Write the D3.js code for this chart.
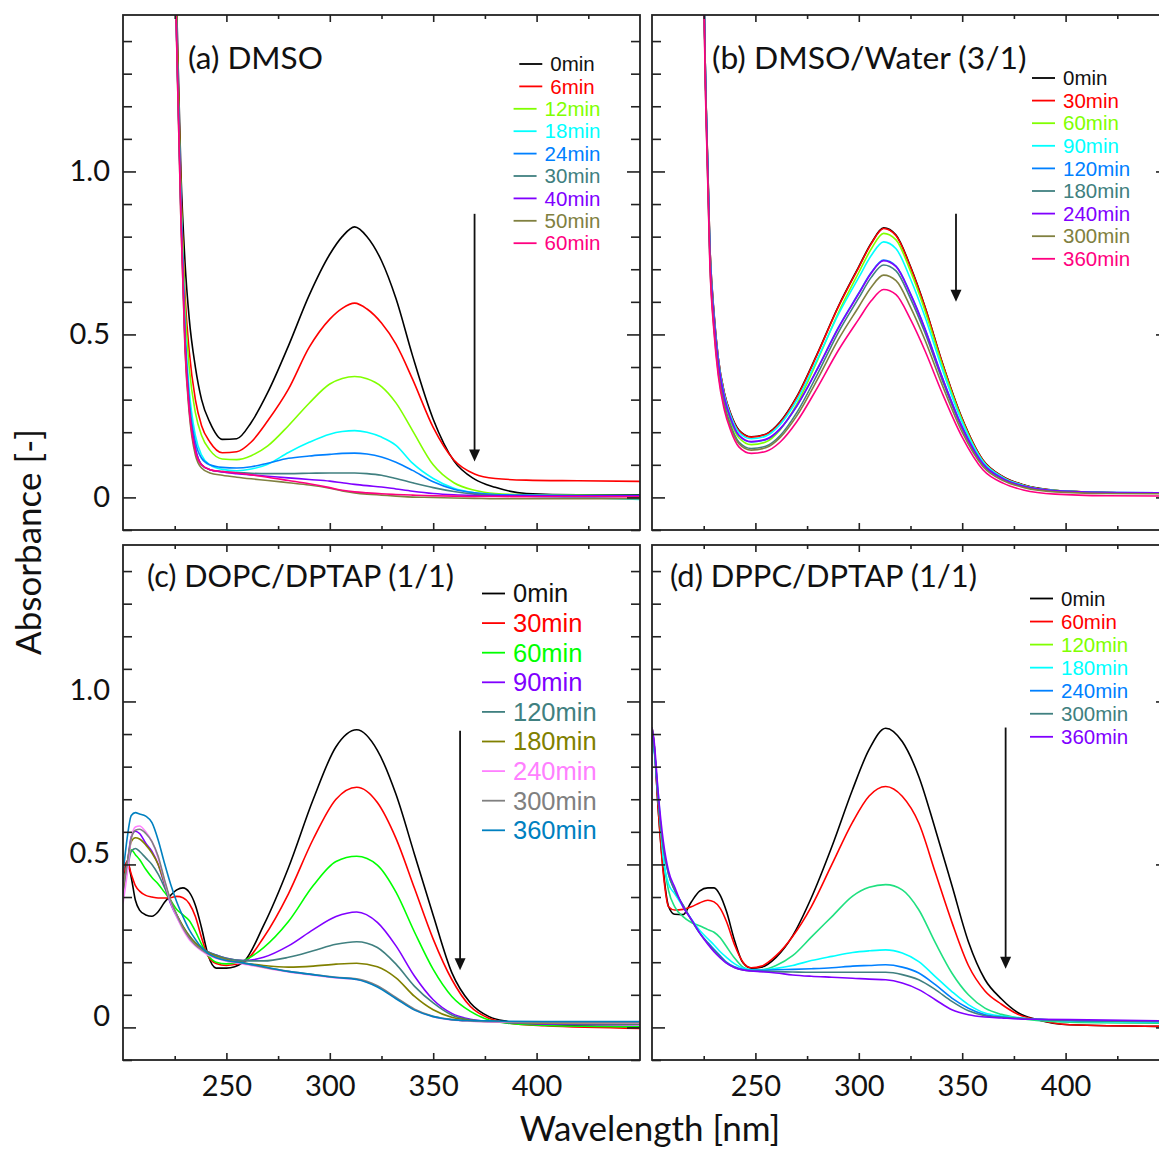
<!DOCTYPE html>
<html>
<head>
<meta charset="utf-8">
<script src="https://cdn.jsdelivr.net/npm/d3@7"></script>
<style>
  body { margin: 0; background: #fff; }
  svg { display: block; }
  .tick-label, .title, .axis-title { font-family: Lato, "Open Sans", sans-serif; fill: #111; }
  .legend text { font-family: "Liberation Sans", Arial, sans-serif; }
</style>
</head>
<body>
<svg id="chart" width="1159" height="1150"></svg>
<script>
// ---------- data ----------
// (a) DMSO
const wlA = [200, 222, 226, 228, 230, 232, 235, 238, 242, 248, 255, 262, 270, 280, 290, 300, 306, 312, 318, 325, 332, 340, 350, 360, 370, 380, 395, 420, 450];
const timesA = ["0min", "6min", "12min", "18min", "24min", "30min", "40min", "50min", "60min"];
const colorsA = ["#000000", "#ff0000", "#80ff00", "#00ffff", "#0080ff", "#408080", "#8000ff", "#808040", "#ff0080"];
const absA0  = [3, 2.5, 1.5, 1.0, 0.72, 0.55, 0.4, 0.3, 0.23, 0.178, 0.18, 0.23, 0.322, 0.465, 0.62, 0.746, 0.8, 0.83, 0.8, 0.726, 0.61, 0.435, 0.24, 0.112, 0.056, 0.031, 0.012, 0.008, 0.008];
const absA6  = [3, 2.5, 1.45, 0.95, 0.62, 0.45, 0.3, 0.22, 0.17, 0.137, 0.14, 0.17, 0.235, 0.332, 0.46, 0.547, 0.58, 0.596, 0.578, 0.535, 0.47, 0.363, 0.215, 0.115, 0.072, 0.058, 0.053, 0.051, 0.049];
const absA12 = [3, 2.5, 1.45, 0.93, 0.58, 0.4, 0.26, 0.19, 0.145, 0.118, 0.116, 0.128, 0.158, 0.22, 0.289, 0.348, 0.365, 0.371, 0.364, 0.34, 0.29, 0.205, 0.1, 0.045, 0.022, 0.012, 0.008, 0.007, 0.006];
const absA18 = [3, 2.5, 1.4, 0.9, 0.52, 0.33, 0.19, 0.13, 0.1, 0.086, 0.082, 0.087, 0.102, 0.138, 0.169, 0.194, 0.202, 0.205, 0.2, 0.185, 0.16, 0.105, 0.058, 0.028, 0.014, 0.008, 0.004, 0.0, -0.006];
const absA24 = [3, 2.5, 1.4, 0.9, 0.5, 0.3, 0.17, 0.12, 0.1, 0.092, 0.09, 0.094, 0.105, 0.12, 0.127, 0.132, 0.135, 0.136, 0.133, 0.124, 0.108, 0.083, 0.048, 0.025, 0.014, 0.009, 0.007, 0.006, 0.006];
const absA30 = [3, 2.5, 1.4, 0.88, 0.48, 0.28, 0.15, 0.1, 0.085, 0.079, 0.076, 0.074, 0.073, 0.073, 0.074, 0.075, 0.075, 0.075, 0.073, 0.068, 0.058, 0.045, 0.03, 0.018, 0.01, 0.006, 0.004, 0.003, 0.003];
const absA40 = [3, 2.5, 1.4, 0.88, 0.48, 0.28, 0.15, 0.1, 0.085, 0.078, 0.073, 0.069, 0.065, 0.06, 0.055, 0.05, 0.045, 0.04, 0.036, 0.032, 0.026, 0.019, 0.012, 0.008, 0.006, 0.005, 0.005, 0.005, 0.005];
const absA50 = [3, 2.5, 1.38, 0.85, 0.45, 0.26, 0.13, 0.09, 0.075, 0.068, 0.062, 0.057, 0.052, 0.045, 0.038, 0.028, 0.02, 0.014, 0.01, 0.007, 0.004, 0.001, 0.0, -0.002, -0.003, -0.004, -0.004, -0.004, -0.004];
const absA60 = [3, 2.5, 1.38, 0.85, 0.46, 0.27, 0.14, 0.1, 0.085, 0.079, 0.075, 0.069, 0.062, 0.052, 0.042, 0.03, 0.022, 0.017, 0.014, 0.011, 0.009, 0.007, 0.005, 0.004, 0.003, 0.003, 0.002, 0.002, 0.002];

// (b) DMSO/Water (3/1)
const wlB = [200, 222, 226, 228, 230, 232, 235, 238, 242, 248, 255, 262, 270, 280, 290, 300, 306, 312, 318, 325, 332, 340, 350, 360, 370, 380, 395, 420, 450];
const timesB = ["0min", "30min", "60min", "90min", "120min", "180min", "240min", "300min", "360min"];
const colorsB = ["#000000", "#ff0000", "#80ff00", "#00ffff", "#0080ff", "#408080", "#8000ff", "#808040", "#ff0080"];
const absB0   = [3, 2.6, 1.25, 0.77, 0.565, 0.43, 0.32, 0.258, 0.207, 0.186, 0.194, 0.232, 0.309, 0.442, 0.585, 0.708, 0.78, 0.827, 0.805, 0.708, 0.585, 0.421, 0.242, 0.115, 0.063, 0.038, 0.022, 0.015, 0.013];
const absB30  = [3, 2.6, 1.25, 0.77, 0.56, 0.43, 0.32, 0.256, 0.205, 0.185, 0.193, 0.23, 0.307, 0.44, 0.583, 0.706, 0.778, 0.825, 0.803, 0.706, 0.583, 0.42, 0.24, 0.114, 0.062, 0.037, 0.021, 0.015, 0.013];
const absB60  = [3, 2.6, 1.25, 0.75, 0.54, 0.41, 0.3, 0.235, 0.183, 0.162, 0.17, 0.208, 0.286, 0.42, 0.565, 0.69, 0.762, 0.81, 0.79, 0.694, 0.573, 0.412, 0.236, 0.111, 0.06, 0.036, 0.021, 0.015, 0.013];
const absB90  = [3, 2.6, 1.25, 0.76, 0.555, 0.425, 0.315, 0.252, 0.2, 0.18, 0.188, 0.224, 0.298, 0.425, 0.56, 0.675, 0.742, 0.784, 0.763, 0.67, 0.554, 0.4, 0.23, 0.11, 0.06, 0.036, 0.021, 0.015, 0.014];
const absB120 = [3, 2.6, 1.25, 0.75, 0.545, 0.415, 0.305, 0.242, 0.19, 0.17, 0.177, 0.21, 0.28, 0.395, 0.52, 0.627, 0.69, 0.728, 0.71, 0.625, 0.518, 0.375, 0.217, 0.104, 0.057, 0.034, 0.02, 0.015, 0.014];
const absB180 = [3, 2.6, 1.22, 0.73, 0.525, 0.395, 0.285, 0.222, 0.17, 0.15, 0.157, 0.19, 0.26, 0.378, 0.505, 0.612, 0.675, 0.713, 0.695, 0.61, 0.505, 0.366, 0.21, 0.1, 0.055, 0.033, 0.019, 0.014, 0.013];
const absB240 = [3, 2.6, 1.25, 0.75, 0.545, 0.415, 0.305, 0.243, 0.191, 0.171, 0.178, 0.211, 0.28, 0.394, 0.518, 0.625, 0.688, 0.726, 0.708, 0.623, 0.516, 0.373, 0.215, 0.103, 0.056, 0.034, 0.02, 0.015, 0.014];
const absB300 = [3, 2.6, 1.22, 0.72, 0.515, 0.385, 0.278, 0.216, 0.165, 0.145, 0.152, 0.184, 0.25, 0.362, 0.483, 0.585, 0.645, 0.682, 0.665, 0.584, 0.483, 0.35, 0.2, 0.095, 0.051, 0.03, 0.017, 0.012, 0.011];
const absB360 = [3, 2.6, 1.2, 0.71, 0.505, 0.375, 0.268, 0.206, 0.155, 0.135, 0.141, 0.17, 0.232, 0.337, 0.45, 0.547, 0.603, 0.638, 0.622, 0.546, 0.45, 0.325, 0.185, 0.085, 0.043, 0.022, 0.01, 0.005, 0.004];

// (c) DOPC/DPTAP (1/1)
const wlC = [200, 202, 204, 206, 208, 211, 214, 217, 220, 223, 226, 229, 232, 235, 238, 241, 245, 250, 258, 268, 280, 292, 303, 313, 323, 332, 341, 350, 359, 368, 377, 386, 404, 450];
const timesC = ["0min", "30min", "60min", "90min", "120min", "180min", "240min", "300min", "360min"];
const colorsC = ["#000000", "#ff0000", "#00ff00", "#8000ff", "#408080", "#808000", "#ff80ff", "#808080", "#0080c0"];
const absC0   = [0.45, 0.51, 0.46, 0.39, 0.36, 0.345, 0.341, 0.355, 0.383, 0.405, 0.422, 0.428, 0.415, 0.375, 0.305, 0.225, 0.182, 0.182, 0.199, 0.313, 0.49, 0.7, 0.861, 0.913, 0.85, 0.715, 0.53, 0.344, 0.168, 0.075, 0.033, 0.018, 0.007, 0.002];
const absC30  = [0.46, 0.51, 0.47, 0.435, 0.418, 0.405, 0.4, 0.397, 0.397, 0.398, 0.402, 0.398, 0.38, 0.34, 0.275, 0.22, 0.196, 0.19, 0.199, 0.276, 0.41, 0.578, 0.7, 0.737, 0.69, 0.58, 0.426, 0.271, 0.147, 0.064, 0.028, 0.014, 0.005, -0.003];
const absC60  = [0.42, 0.5, 0.545, 0.53, 0.515, 0.485, 0.46, 0.44, 0.415, 0.39, 0.362, 0.345, 0.328, 0.295, 0.255, 0.222, 0.2, 0.195, 0.204, 0.245, 0.325, 0.435, 0.509, 0.525, 0.498, 0.415, 0.292, 0.178, 0.095, 0.049, 0.023, 0.013, 0.006, 0.002];
const absC90  = [0.42, 0.5, 0.585, 0.602, 0.595, 0.565, 0.54, 0.5, 0.44, 0.38, 0.34, 0.305, 0.278, 0.258, 0.244, 0.232, 0.222, 0.212, 0.205, 0.215, 0.25, 0.3, 0.34, 0.354, 0.322, 0.25, 0.157, 0.085, 0.043, 0.025, 0.018, 0.015, 0.01, 0.008];
const absC120 = [0.41, 0.48, 0.54, 0.549, 0.54, 0.52, 0.5, 0.47, 0.43, 0.385, 0.345, 0.31, 0.282, 0.26, 0.245, 0.232, 0.222, 0.212, 0.205, 0.204, 0.215, 0.235, 0.255, 0.263, 0.245, 0.194, 0.126, 0.075, 0.038, 0.023, 0.018, 0.016, 0.012, 0.01];
const absC180 = [0.42, 0.5, 0.57, 0.582, 0.578, 0.56, 0.535, 0.5, 0.445, 0.39, 0.345, 0.31, 0.28, 0.258, 0.242, 0.23, 0.218, 0.208, 0.198, 0.19, 0.185, 0.188, 0.194, 0.197, 0.186, 0.152, 0.095, 0.054, 0.031, 0.022, 0.018, 0.016, 0.013, 0.012];
const absC240 = [0.38, 0.47, 0.58, 0.615, 0.618, 0.6, 0.57, 0.52, 0.45, 0.385, 0.34, 0.3, 0.27, 0.25, 0.235, 0.222, 0.212, 0.203, 0.195, 0.183, 0.17, 0.16, 0.152, 0.147, 0.126, 0.09, 0.054, 0.033, 0.023, 0.019, 0.017, 0.016, 0.015, 0.014];
const absC300 = [0.43, 0.5, 0.58, 0.605, 0.608, 0.595, 0.57, 0.525, 0.455, 0.39, 0.345, 0.305, 0.275, 0.253, 0.238, 0.226, 0.215, 0.206, 0.197, 0.185, 0.172, 0.162, 0.154, 0.149, 0.128, 0.092, 0.056, 0.034, 0.024, 0.02, 0.018, 0.017, 0.016, 0.015];
const absC360 = [0.47, 0.58, 0.65, 0.659, 0.655, 0.648, 0.628, 0.575, 0.505, 0.44, 0.385, 0.34, 0.3, 0.27, 0.245, 0.228, 0.214, 0.205, 0.198, 0.186, 0.172, 0.162, 0.153, 0.147, 0.124, 0.088, 0.053, 0.033, 0.024, 0.021, 0.02, 0.019, 0.018, 0.018];

// (d) DPPC/DPTAP (1/1)
const wlD = [200, 201, 203, 205.5, 208, 211, 215, 219, 223, 227, 230, 233, 236, 240, 244, 248, 253, 260, 268, 277, 287, 297, 305, 313, 321, 329, 337, 345, 353, 361, 369, 377, 386, 402, 450];
const timesD = ["0min", "60min", "120min", "180min", "240min", "300min", "360min"];
const colorsD = ["#000000", "#ff0000", "#80ff00", "#00ffff", "#0080ff", "#408080", "#8000ff"];
// the 120min spectrum is plotted in a bluer green than its legend entry
const lineColorsD = ["#000000", "#ff0000", "#20e080", "#00ffff", "#0080ff", "#408080", "#8000ff"];
const absD0   = [0.92, 0.87, 0.67, 0.48, 0.371, 0.347, 0.346, 0.385, 0.418, 0.428, 0.428, 0.405, 0.356, 0.265, 0.198, 0.182, 0.185, 0.215, 0.281, 0.397, 0.555, 0.73, 0.853, 0.918, 0.877, 0.77, 0.608, 0.436, 0.263, 0.147, 0.087, 0.045, 0.024, 0.008, 0.003];
const absD60  = [0.92, 0.87, 0.67, 0.47, 0.37, 0.36, 0.362, 0.37, 0.382, 0.39, 0.385, 0.365, 0.325, 0.252, 0.2, 0.183, 0.188, 0.22, 0.279, 0.37, 0.5, 0.63, 0.71, 0.739, 0.709, 0.627, 0.475, 0.323, 0.19, 0.112, 0.071, 0.04, 0.024, 0.008, 0.003];
const absD120 = [0.92, 0.87, 0.7, 0.52, 0.42, 0.37, 0.34, 0.322, 0.312, 0.3, 0.292, 0.275, 0.248, 0.212, 0.185, 0.176, 0.177, 0.19, 0.22, 0.277, 0.34, 0.403, 0.43, 0.438, 0.422, 0.361, 0.26, 0.167, 0.1, 0.059, 0.04, 0.029, 0.021, 0.016, 0.013];
const absD180 = [0.9, 0.85, 0.72, 0.52, 0.44, 0.41, 0.37, 0.333, 0.298, 0.272, 0.253, 0.232, 0.215, 0.195, 0.182, 0.177, 0.176, 0.181, 0.19, 0.205, 0.218, 0.23, 0.235, 0.238, 0.228, 0.202, 0.156, 0.11, 0.07, 0.044, 0.035, 0.03, 0.025, 0.02, 0.016];
const absD240 = [0.9, 0.86, 0.7, 0.55, 0.47, 0.42, 0.375, 0.33, 0.29, 0.26, 0.24, 0.22, 0.2, 0.186, 0.178, 0.175, 0.175, 0.177, 0.178, 0.18, 0.183, 0.188, 0.19, 0.192, 0.185, 0.167, 0.131, 0.09, 0.059, 0.039, 0.032, 0.028, 0.025, 0.021, 0.018];
const absD300 = [0.9, 0.86, 0.7, 0.55, 0.47, 0.42, 0.375, 0.33, 0.29, 0.258, 0.236, 0.217, 0.198, 0.184, 0.176, 0.173, 0.172, 0.171, 0.17, 0.169, 0.169, 0.169, 0.169, 0.169, 0.162, 0.146, 0.116, 0.08, 0.051, 0.036, 0.031, 0.028, 0.025, 0.021, 0.018];
const absD360 = [0.92, 0.88, 0.72, 0.57, 0.48, 0.43, 0.37, 0.332, 0.29, 0.255, 0.232, 0.213, 0.197, 0.183, 0.176, 0.173, 0.171, 0.167, 0.161, 0.157, 0.154, 0.151, 0.148, 0.146, 0.136, 0.116, 0.085, 0.054, 0.039, 0.032, 0.029, 0.026, 0.025, 0.024, 0.02];

// axis tick values
const wlTickLabels = [250, 300, 350, 400];
const wlMinorTicks = [225, 275, 325, 375, 425];
const absTickLabels = [0, 0.5, 1.0];
const absMinorTicks = [-0.1, 0.1, 0.2, 0.3, 0.4, 0.6, 0.7, 0.8, 0.9, 1.1, 1.2, 1.3, 1.4];

// arrows marking the decrease over time: [wavelength, from, to]
const arrowA = [370, 0.87, 0.11];
const arrowB = [347, 0.87, 0.60];
const arrowC = [363, 0.91, 0.175];
const arrowD = [371, 0.92, 0.18];

// ---------- drawing ----------
const svg = d3.select("#chart");
const W = 517, H = 515;

const panels = [
  { id: "a", title: "(a) DMSO", left: 123, top: 15, wl: wlA, times: timesA, colors: colorsA, lineColors: colorsA,
    abs: [absA0, absA6, absA12, absA18, absA24, absA30, absA40, absA50, absA60], arrow: arrowA,
    yLabels: true, xLabels: false, labelShift: 0, titleSize: 31.5,
    titlePos: [65, 54], legend: { x: 557, y: 64, dy: 22.4, size: 20.5, mode: "center" } },
  { id: "b", title: "(b) DMSO/Water (3/1)", left: 652, top: 15, wl: wlB, times: timesB, colors: colorsB, lineColors: colorsB,
    abs: [absB0, absB30, absB60, absB90, absB120, absB180, absB240, absB300, absB360], arrow: arrowB,
    yLabels: false, xLabels: false, labelShift: 0, titleSize: 31.8,
    titlePos: [60, 54], legend: { x: 1032, y: 78, dy: 22.6, size: 20.5, mode: "left" } },
  { id: "c", title: "(c) DOPC/DPTAP (1/1)", left: 123, top: 545, wl: wlC, times: timesC, colors: colorsC, lineColors: colorsC,
    abs: [absC0, absC30, absC60, absC90, absC120, absC180, absC240, absC300, absC360], arrow: arrowC,
    yLabels: true, xLabels: true, labelShift: -11, titleSize: 30.6,
    titlePos: [24, 42], legend: { x: 482, y: 593.5, dy: 29.6, size: 25.5, mode: "left" } },
  { id: "d", title: "(d) DPPC/DPTAP (1/1)", left: 652, top: 545, wl: wlD, times: timesD, colors: colorsD, lineColors: lineColorsD,
    abs: [absD0, absD60, absD120, absD180, absD240, absD300, absD360], arrow: arrowD,
    yLabels: false, xLabels: true, labelShift: 0, titleSize: 30.9,
    titlePos: [18, 42], legend: { x: 1030, y: 598.5, dy: 23.05, size: 20.5, mode: "left" } }
];

const defs = svg.append("defs");

panels.forEach(p => {
  const x = d3.scaleLinear().domain([200, 450]).range([0, W]);
  const y = d3.scaleLinear().domain([-0.1, 1.48]).range([H, 0]);
  const g = svg.append("g").attr("transform", `translate(${p.left},${p.top})`);

  defs.append("clipPath").attr("id", "clip-" + p.id)
    .append("rect").attr("width", W).attr("height", H);

  // spectra
  const line = d3.line()
    .x((d, i) => x(p.wl[i]))
    .y(d => y(d))
    .curve(d3.curveMonotoneX);
  const plot = g.append("g").attr("clip-path", `url(#clip-${p.id})`);
  p.abs.forEach((series, k) => {
    plot.append("path")
      .attr("d", line(series))
      .attr("fill", "none")
      .attr("stroke", p.lineColors[k])
      .attr("stroke-width", 1.6)
      .attr("stroke-linejoin", "round");
  });

  // inward ticks on all four sides
  const tickStyle = sel => {
    sel.select(".domain").remove();
    sel.selectAll("line").attr("stroke", "#222").attr("stroke-width", 1.6);
  };
  const leftMajor = d3.axisLeft(y).tickValues(absTickLabels).tickSize(-13).tickPadding(13)
    .tickFormat(p.yLabels ? (d => d === 0 ? "0" : d3.format(".1f")(d)) : "");
  const gl = g.append("g").call(leftMajor).call(tickStyle);
  gl.selectAll("text").attr("class", "tick-label").attr("font-size", 29)
    .attr("fill", "#111").attr("font-family", "Lato, sans-serif")
    .attr("transform", `translate(0,${p.labelShift})`);
  g.append("g").call(d3.axisLeft(y).tickValues(absMinorTicks).tickSize(-9).tickFormat("")).call(tickStyle);
  g.append("g").attr("transform", `translate(${W},0)`)
    .call(d3.axisRight(y).tickValues(absTickLabels).tickSize(-13).tickFormat("")).call(tickStyle);
  g.append("g").attr("transform", `translate(${W},0)`)
    .call(d3.axisRight(y).tickValues(absMinorTicks).tickSize(-9).tickFormat("")).call(tickStyle);

  const bottomMajor = d3.axisBottom(x).tickValues(wlTickLabels).tickSize(-7).tickPadding(15)
    .tickFormat(p.xLabels ? d3.format("d") : "");
  const gb = g.append("g").attr("transform", `translate(0,${H})`).call(bottomMajor).call(tickStyle);
  gb.selectAll("text").attr("class", "tick-label").attr("font-size", 29)
    .attr("fill", "#111").attr("font-family", "Lato, sans-serif");
  g.append("g").attr("transform", `translate(0,${H})`)
    .call(d3.axisBottom(x).tickValues(wlMinorTicks).tickSize(-4).tickFormat("")).call(tickStyle);
  g.append("g").call(d3.axisTop(x).tickValues(wlTickLabels).tickSize(-7).tickFormat("")).call(tickStyle);
  g.append("g").call(d3.axisTop(x).tickValues(wlMinorTicks).tickSize(-4).tickFormat("")).call(tickStyle);

  // frame
  g.append("rect").attr("width", W).attr("height", H)
    .attr("fill", "none").attr("stroke", "#222").attr("stroke-width", 1.8);

  // panel title
  g.append("text").attr("class", "title")
    .attr("x", p.titlePos[0]).attr("y", p.titlePos[1])
    .attr("font-size", p.titleSize).text(p.title);

  // arrow
  const [aw, a0, a1] = p.arrow;
  g.append("line")
    .attr("x1", x(aw)).attr("x2", x(aw))
    .attr("y1", y(a0)).attr("y2", y(a1) - 10)
    .attr("stroke", "#111").attr("stroke-width", 1.8);
  g.append("path")
    .attr("d", `M${x(aw) - 5.5},${y(a1) - 12}L${x(aw) + 5.5},${y(a1) - 12}L${x(aw)},${y(a1)}Z`)
    .attr("fill", "#111");

  // legend
  const L = p.legend;
  const lg = svg.append("g").attr("class", "legend");
  p.times.forEach((t, k) => {
    const row = lg.append("g");
    const txt = row.append("text")
      .attr("font-size", L.size)
      .attr("fill", p.colors[k] === "#000000" ? "#111" : p.colors[k])
      .attr("dy", "0.35em")
      .text(t);
    const tw = txt.node().getComputedTextLength();
    const lineLen = 23, gap = 8;
    let x0 = L.x;
    if (L.mode === "center") x0 = L.x - (lineLen + gap + tw) / 2;
    const yy = L.y + k * L.dy;
    row.append("line")
      .attr("x1", x0).attr("x2", x0 + lineLen)
      .attr("y1", yy).attr("y2", yy)
      .attr("stroke", p.colors[k]).attr("stroke-width", 1.8);
    txt.attr("x", x0 + lineLen + gap).attr("y", yy);
  });
});

// axis titles
svg.append("text").attr("class", "axis-title")
  .attr("transform", "translate(41,542) rotate(-90)")
  .attr("text-anchor", "middle").attr("font-size", 35)
  .text("Absorbance [-]");
svg.append("text").attr("class", "axis-title")
  .attr("x", 650).attr("y", 1141)
  .attr("text-anchor", "middle").attr("font-size", 35)
  .text("Wavelength [nm]");
</script>
</body>
</html>
